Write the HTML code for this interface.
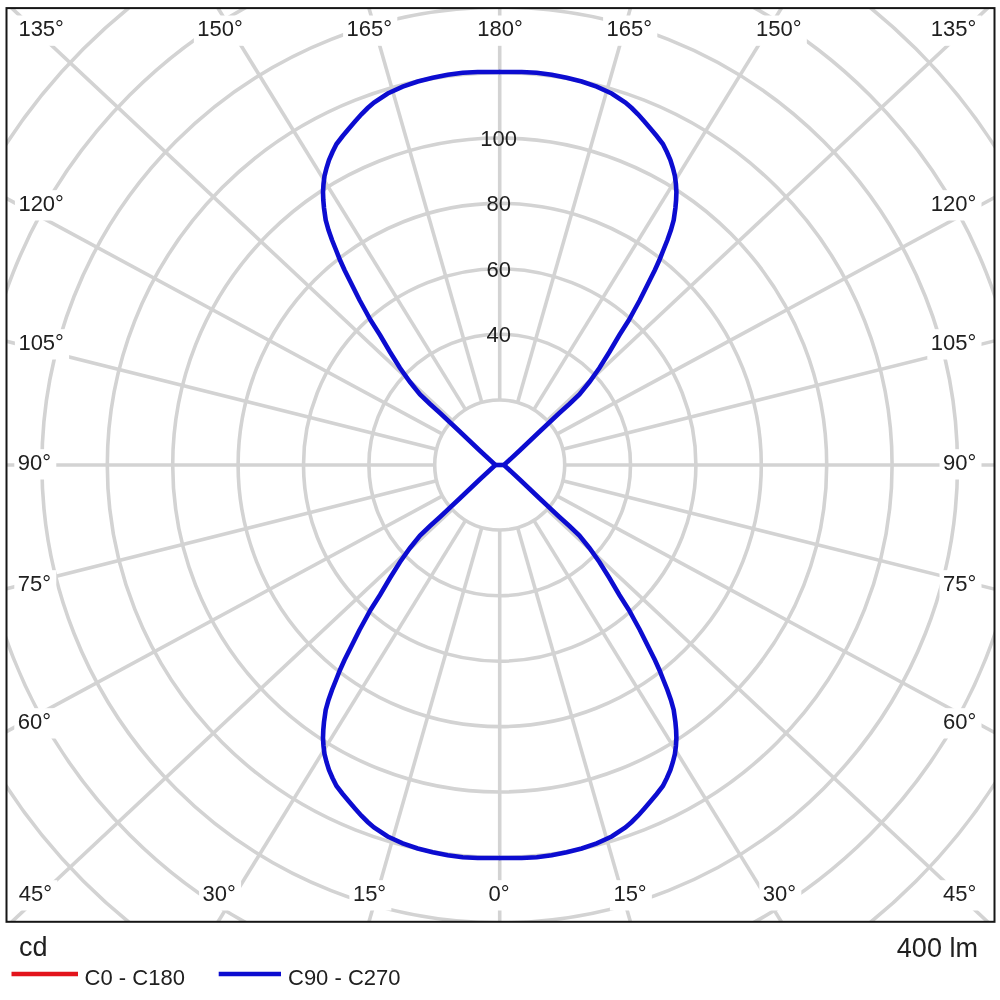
<!DOCTYPE html>
<html><head><meta charset="utf-8"><title>Polar intensity diagram</title>
<style>html,body{margin:0;padding:0;background:#fff;}body{width:1000px;height:1000px;overflow:hidden;}svg{display:block;will-change:transform;}text{font-family:"Liberation Sans",sans-serif;fill:#202020;}</style></head><body>
<svg width="1000" height="1000" viewBox="0 0 1000 1000">
<rect x="0" y="0" width="1000" height="1000" fill="#ffffff"/>
<defs><clipPath id="fc"><rect x="6.5" y="8.1" width="988.0" height="913.6999999999999"/></clipPath></defs>
<g clip-path="url(#fc)" fill="none" stroke="#d3d3d3" stroke-width="3.6">
<circle cx="499.7" cy="465.0" r="65.00"/>
<circle cx="499.7" cy="465.0" r="130.80"/>
<circle cx="499.7" cy="465.0" r="196.20"/>
<circle cx="499.7" cy="465.0" r="261.60"/>
<circle cx="499.7" cy="465.0" r="327.00"/>
<circle cx="499.7" cy="465.0" r="392.40"/>
<circle cx="499.7" cy="465.0" r="457.80"/>
<circle cx="499.7" cy="465.0" r="523.20"/>
<circle cx="499.7" cy="465.0" r="588.60"/>
<line x1="499.70" y1="400.00" x2="499.70" y2="-335.00"/>
<line x1="517.58" y1="402.51" x2="719.80" y2="-304.13"/>
<line x1="533.82" y1="409.67" x2="919.58" y2="-215.95"/>
<line x1="547.15" y1="420.57" x2="1083.67" y2="-81.79"/>
<line x1="556.88" y1="434.09" x2="1203.45" y2="84.56"/>
<line x1="562.75" y1="449.18" x2="1275.65" y2="270.32"/>
<line x1="564.70" y1="465.00" x2="1299.70" y2="465.00"/>
<line x1="562.75" y1="480.82" x2="1275.65" y2="659.68"/>
<line x1="556.88" y1="495.91" x2="1203.45" y2="845.44"/>
<line x1="547.15" y1="509.43" x2="1083.67" y2="1011.79"/>
<line x1="533.82" y1="520.33" x2="919.58" y2="1145.95"/>
<line x1="517.58" y1="527.49" x2="719.80" y2="1234.13"/>
<line x1="499.70" y1="530.00" x2="499.70" y2="1265.00"/>
<line x1="481.82" y1="527.49" x2="279.60" y2="1234.13"/>
<line x1="465.58" y1="520.33" x2="79.82" y2="1145.95"/>
<line x1="452.25" y1="509.43" x2="-84.27" y2="1011.79"/>
<line x1="442.52" y1="495.91" x2="-204.05" y2="845.44"/>
<line x1="436.65" y1="480.82" x2="-276.25" y2="659.68"/>
<line x1="434.70" y1="465.00" x2="-300.30" y2="465.00"/>
<line x1="436.65" y1="449.18" x2="-276.25" y2="270.32"/>
<line x1="442.52" y1="434.09" x2="-204.05" y2="84.56"/>
<line x1="452.25" y1="420.57" x2="-84.27" y2="-81.79"/>
<line x1="465.58" y1="409.67" x2="79.82" y2="-215.95"/>
<line x1="481.82" y1="402.51" x2="279.60" y2="-304.13"/>
</g>
<rect x="14.90" y="15.50" width="54.20" height="30.3" fill="#fff"/>
<rect x="927.30" y="15.50" width="54.20" height="30.3" fill="#fff"/>
<rect x="14.90" y="190.20" width="54.20" height="30.3" fill="#fff"/>
<rect x="927.30" y="190.20" width="54.20" height="30.3" fill="#fff"/>
<rect x="14.90" y="329.20" width="54.20" height="30.3" fill="#fff"/>
<rect x="927.30" y="329.20" width="54.20" height="30.3" fill="#fff"/>
<rect x="14.30" y="449.20" width="41.97" height="30.3" fill="#fff"/>
<rect x="939.53" y="449.20" width="41.97" height="30.3" fill="#fff"/>
<rect x="14.30" y="570.20" width="41.97" height="30.3" fill="#fff"/>
<rect x="939.53" y="570.20" width="41.97" height="30.3" fill="#fff"/>
<rect x="14.30" y="708.20" width="41.97" height="30.3" fill="#fff"/>
<rect x="939.53" y="708.20" width="41.97" height="30.3" fill="#fff"/>
<rect x="15.30" y="880.20" width="41.97" height="30.3" fill="#fff"/>
<rect x="939.53" y="880.20" width="41.97" height="30.3" fill="#fff"/>
<rect x="193.85" y="15.50" width="54.20" height="30.3" fill="#fff"/>
<rect x="343.10" y="15.50" width="54.20" height="30.3" fill="#fff"/>
<rect x="473.70" y="15.50" width="54.20" height="30.3" fill="#fff"/>
<rect x="603.10" y="15.50" width="54.20" height="30.3" fill="#fff"/>
<rect x="752.60" y="15.50" width="54.20" height="30.3" fill="#fff"/>
<rect x="199.10" y="880.20" width="41.97" height="30.3" fill="#fff"/>
<rect x="349.40" y="880.20" width="41.97" height="30.3" fill="#fff"/>
<rect x="484.90" y="880.20" width="29.73" height="30.3" fill="#fff"/>
<rect x="609.90" y="880.20" width="41.97" height="30.3" fill="#fff"/>
<rect x="759.35" y="880.20" width="41.97" height="30.3" fill="#fff"/>
<rect x="6.5" y="8.1" width="988.0" height="913.6999999999999" fill="none" stroke="#161616" stroke-width="2"/>
<text x="18.40" y="36.30" font-size="22">135°</text>
<text x="930.80" y="36.30" font-size="22">135°</text>
<text x="18.40" y="211.00" font-size="22">120°</text>
<text x="930.80" y="211.00" font-size="22">120°</text>
<text x="18.40" y="350.00" font-size="22">105°</text>
<text x="930.80" y="350.00" font-size="22">105°</text>
<text x="17.80" y="470.00" font-size="22">90°</text>
<text x="943.03" y="470.00" font-size="22">90°</text>
<text x="17.80" y="591.00" font-size="22">75°</text>
<text x="943.03" y="591.00" font-size="22">75°</text>
<text x="17.80" y="729.00" font-size="22">60°</text>
<text x="943.03" y="729.00" font-size="22">60°</text>
<text x="18.80" y="901.00" font-size="22">45°</text>
<text x="943.03" y="901.00" font-size="22">45°</text>
<text x="197.35" y="36.30" font-size="22">150°</text>
<text x="346.60" y="36.30" font-size="22">165°</text>
<text x="477.20" y="36.30" font-size="22">180°</text>
<text x="606.60" y="36.30" font-size="22">165°</text>
<text x="756.10" y="36.30" font-size="22">150°</text>
<text x="202.60" y="901.00" font-size="22">30°</text>
<text x="352.90" y="901.00" font-size="22">15°</text>
<text x="488.40" y="901.00" font-size="22">0°</text>
<text x="613.40" y="901.00" font-size="22">15°</text>
<text x="762.85" y="901.00" font-size="22">30°</text>
<text x="498.70" y="342.10" font-size="22" text-anchor="middle">40</text>
<text x="498.70" y="276.70" font-size="22" text-anchor="middle">60</text>
<text x="498.70" y="211.30" font-size="22" text-anchor="middle">80</text>
<text x="498.70" y="145.90" font-size="22" text-anchor="middle">100</text>
<path d="M499.7,72.0 L477.7,72.0 L462.7,72.8 L447.7,74.7 L432.7,77.7 L417.7,81.5 L402.7,86.7 L387.7,93.5 L374.0,102.5 L367.7,108.0 L361.4,114.3 L355.4,121.0 L349.2,128.2 L342.7,136.0 L336.5,144.0 L332.5,152.0 L329.0,160.0 L326.5,168.0 L324.5,176.0 L323.5,184.0 L323.0,192.0 L323.3,200.0 L324.0,208.0 L325.7,220.0 L328.5,230.0 L332.0,240.0 L336.0,250.0 L340.0,260.0 L344.5,270.0 L349.5,280.0 L354.5,290.0 L359.5,300.0 L365.0,310.0 L370.5,320.0 L380.0,335.0 L390.0,352.0 L400.0,368.0 L410.0,382.0 L420.0,394.5 L430.0,404.0 L440.0,413.0 L459.7,431.5 L479.7,450.5 L495.4,465.0 L479.7,479.5 L459.7,498.5 L440.0,517.0 L430.0,526.0 L420.0,535.5 L410.0,548.0 L400.0,562.0 L390.0,578.0 L380.0,595.0 L370.5,610.0 L365.0,620.0 L359.5,630.0 L354.5,640.0 L349.5,650.0 L344.5,660.0 L340.0,670.0 L336.0,680.0 L332.0,690.0 L328.5,700.0 L325.7,710.0 L324.0,722.0 L323.3,730.0 L323.0,738.0 L323.5,746.0 L324.5,754.0 L326.5,762.0 L329.0,770.0 L332.5,778.0 L336.5,786.0 L342.7,794.0 L349.2,801.8 L355.4,809.0 L361.4,815.7 L367.7,822.0 L374.0,827.5 L387.7,836.5 L402.7,843.3 L417.7,848.5 L432.7,852.3 L447.7,855.3 L462.7,857.2 L477.7,858.0 L499.7,858.0" fill="none" stroke="#0c0cd0" stroke-width="4.6" stroke-linejoin="miter" stroke-miterlimit="10" stroke-linecap="round"/>
<path d="M499.7,72.0 L521.7,72.0 L536.7,72.8 L551.7,74.7 L566.7,77.7 L581.7,81.5 L596.7,86.7 L611.7,93.5 L625.4,102.5 L631.7,108.0 L638.0,114.3 L644.0,121.0 L650.2,128.2 L656.7,136.0 L662.9,144.0 L666.9,152.0 L670.4,160.0 L672.9,168.0 L674.9,176.0 L675.9,184.0 L676.4,192.0 L676.1,200.0 L675.4,208.0 L673.7,220.0 L670.9,230.0 L667.4,240.0 L663.4,250.0 L659.4,260.0 L654.9,270.0 L649.9,280.0 L644.9,290.0 L639.9,300.0 L634.4,310.0 L628.9,320.0 L619.4,335.0 L609.4,352.0 L599.4,368.0 L589.4,382.0 L579.4,394.5 L569.4,404.0 L559.4,413.0 L539.7,431.5 L519.7,450.5 L504.0,465.0 L519.7,479.5 L539.7,498.5 L559.4,517.0 L569.4,526.0 L579.4,535.5 L589.4,548.0 L599.4,562.0 L609.4,578.0 L619.4,595.0 L628.9,610.0 L634.4,620.0 L639.9,630.0 L644.9,640.0 L649.9,650.0 L654.9,660.0 L659.4,670.0 L663.4,680.0 L667.4,690.0 L670.9,700.0 L673.7,710.0 L675.4,722.0 L676.1,730.0 L676.4,738.0 L675.9,746.0 L674.9,754.0 L672.9,762.0 L670.4,770.0 L666.9,778.0 L662.9,786.0 L656.7,794.0 L650.2,801.8 L644.0,809.0 L638.0,815.7 L631.7,822.0 L625.4,827.5 L611.7,836.5 L596.7,843.3 L581.7,848.5 L566.7,852.3 L551.7,855.3 L536.7,857.2 L521.7,858.0 L499.7,858.0" fill="none" stroke="#0c0cd0" stroke-width="4.6" stroke-linejoin="miter" stroke-miterlimit="10" stroke-linecap="round"/>
<line x1="495.4" y1="465.0" x2="504.0" y2="465.0" stroke="#0c0cd0" stroke-width="4.6"/>
<text x="19.0" y="956.0" font-size="27">cd</text>
<text x="977.9" y="956.5" font-size="27" text-anchor="end">400 lm</text>
<line x1="11.5" y1="974" x2="78" y2="974" stroke="#e3141c" stroke-width="4.6"/>
<text x="84.6" y="984.8" font-size="22">C0 - C180</text>
<line x1="218.7" y1="974" x2="281" y2="974" stroke="#0c0cd0" stroke-width="4.6"/>
<text x="288" y="984.8" font-size="22">C90 - C270</text>
</svg></body></html>
